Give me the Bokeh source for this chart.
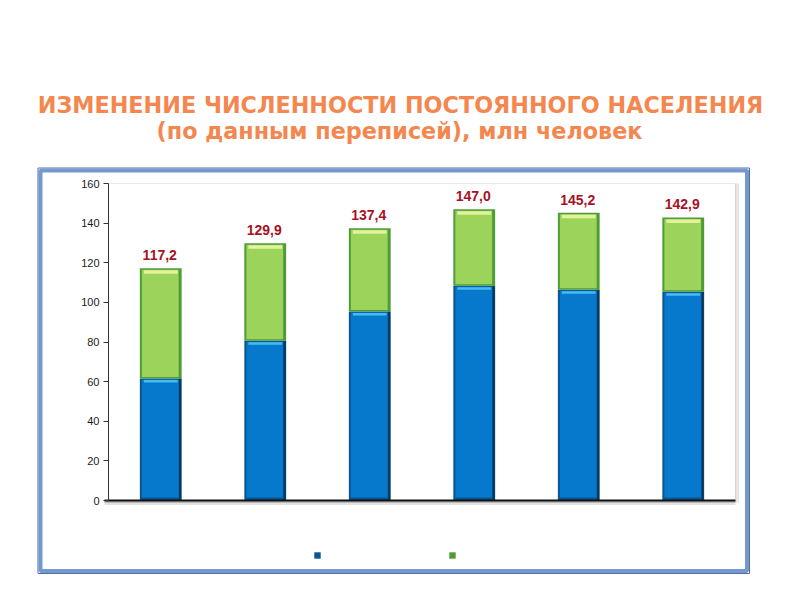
from bokeh.plotting import figure
from bokeh.models import Range1d, LinearAxis, FixedTicker, Legend, LegendItem
from bokeh.core.properties import value
from bokeh.embed import file_html
from bokeh.resources import INLINE

# ---- data ----
census_years = ["1959", "1970", "1979", "1989", "2002", "2010"]
urban = [61.6, 80.6, 95.4, 108.4, 106.4, 105.3]
rural = [55.6, 49.3, 42.0, 38.6, 38.8, 37.6]
y_ticks = [0, 20, 40, 60, 80, 100, 120, 140, 160]
title_line1 = "ИЗМЕНЕНИЕ ЧИСЛЕННОСТИ ПОСТОЯННОГО НАСЕЛЕНИЯ"
title_line2 = "(по данным переписей), млн человек"

totals = [round(u + r, 1) for u, r in zip(urban, rural)]
total_labels = [f"{t:.1f}".replace(".", ",") for t in totals]

# ---- geometry helpers (page pixel -> data) ----
W, H = 784, 584
PAGE_OFF = 0
X0_PAGE = 108.0
CAT_W = 104.5
Y0_PAGE = 500.0
PX_PER_UNIT = (500.0 - 183.0) / 160.0


def dx(px):
    return (px - X0_PAGE) / CAT_W


def dy(py):
    return (Y0_PAGE - py) / PX_PER_UNIT


xp = 1.0 / CAT_W
yp = 1.0 / PX_PER_UNIT

p = figure(width=W, height=H, output_backend="svg", toolbar_location=None,
           x_axis_type=None, y_axis_type=None,
           x_range=Range1d(dx(PAGE_OFF), dx(PAGE_OFF + W)),
           y_range=Range1d(dy(PAGE_OFF + H), dy(PAGE_OFF)),
           min_border=0, min_border_left=0, min_border_right=0,
           min_border_top=0, min_border_bottom=0)
p.outline_line_color = None
p.background_fill_color = "white"
p.border_fill_color = "white"

xs = [i + 0.5 for i in range(len(census_years))]
BW = 0.4

# outer panel frame
p.quad(left=[dx(37.5)], right=[dx(749.0)], top=[dy(167.5)], bottom=[dy(573.0)],
       fill_color=None, line_color="#50709F", line_width=1)
p.quad(left=[dx(40.0)], right=[dx(746.5)], top=[dy(170.0)], bottom=[dy(570.5)],
       fill_color=None, line_color="#7399CF", line_width=4)

# faint plot area edges
n = len(census_years)
p.segment(x0=[0], x1=[n], y0=[160], y1=[160], line_color="#EAEAEA", line_width=1)
p.segment(x0=[n + 2 * xp], x1=[n + 2 * xp], y0=[160], y1=[-2 * yp], line_color="#E6E6E6", line_width=3)
p.segment(x0=[n], x1=[n], y0=[160], y1=[0], line_color="#D4D4D4", line_width=1)

# urban (blue)
blue_outer = p.vbar(x=xs, width=BW, bottom=0, top=urban, fill_color="#0B5590", line_color=None)
p.vbar(x=[x - 0.5 * xp for x in xs], width=BW - 5 * xp, bottom=3 * yp,
       top=[u - 1 * yp for u in urban], fill_color="#0679CC", line_color=None)
p.vbar(x=[x + BW / 2 - 1.5 * xp for x in xs], width=2 * xp, bottom=0, top=urban,
       fill_color="#08375C", line_color=None)
p.vbar(x=xs, width=BW - 8 * xp, bottom=[u - 4 * yp for u in urban],
       top=[u - 1.5 * yp for u in urban], fill_color="#48BAF0", line_color=None)

# rural (green)
green_outer = p.vbar(x=xs, width=BW, bottom=urban, top=totals, fill_color="#4E9B37", line_color=None)
p.vbar(x=[x - 0.5 * xp for x in xs], width=BW - 5 * xp, bottom=[u + 1.5 * yp for u in urban],
       top=[t - 1.5 * yp for t in totals], fill_color="#9CD45B", line_color=None)
p.vbar(x=xs, width=BW - 8 * xp, bottom=[t - 5.5 * yp for t in totals],
       top=[t - 2 * yp for t in totals], fill_color="#E3F39C", line_color=None)

# value labels above each bar
p.text(x=[x - 1 * xp for x in xs], y=[t + 13 * yp for t in totals], text=total_labels,
       text_align="center", text_baseline="alphabetic",
       text_font=value("Liberation Sans"), text_font_style="bold",
       text_font_size="14px", text_color="#A6121F")

# x axis line with shadow
p.segment(x0=[dx(104)], x1=[n], y0=[-3 * yp], y1=[-3 * yp], line_color="#E2E2E2", line_width=3)
p.segment(x0=[dx(104)], x1=[n], y0=[-1.5 * yp], y1=[-1.5 * yp], line_color="#AAAAAA", line_width=1.5)
p.segment(x0=[dx(104)], x1=[n], y0=[0], y1=[0], line_color="#111111", line_width=2)

# y axis
yaxis = LinearAxis(fixed_location=0, bounds=(0, 160), ticker=FixedTicker(ticks=y_ticks),
                   major_tick_out=5, major_tick_in=0, minor_tick_out=0, minor_tick_in=0,
                   axis_line_color="#333333", major_tick_line_color="#333333",
                   major_label_standoff=4,
                   major_label_text_font="Liberation Sans",
                   major_label_text_font_size="11px",
                   major_label_text_color="#1A1A1A")
p.add_layout(yaxis, "left")

# title
p.text(x=[dx(400)], y=[dy(104.5)], text=[title_line1], text_align="center",
       text_baseline="alphabetic", text_font=value("DejaVu Sans"), text_font_style="bold",
       text_font_size="22.3px", text_color="#F4874F")
p.text(x=[dx(399)], y=[dy(130.5)], text=[title_line2], text_align="center",
       text_baseline="alphabetic", text_font=value("DejaVu Sans"), text_font_style="bold",
       text_font_size="22.3px", text_color="#F4874F")

# legend (no labels, as in the reference)
legend = Legend(items=[LegendItem(label=" ", renderers=[blue_outer]),
                       LegendItem(label=" ", renderers=[green_outer])],
                orientation="horizontal", location=(313 - PAGE_OFF, PAGE_OFF + H - 559),
                glyph_width=8, glyph_height=8, label_width=127, label_height=8,
                label_standoff=0, spacing=0, padding=0, margin=0,
                border_line_color=None, background_fill_alpha=0,
                label_text_font_size="1px")
p.add_layout(legend)

open("out.html", "w").write(file_html(p, INLINE))
